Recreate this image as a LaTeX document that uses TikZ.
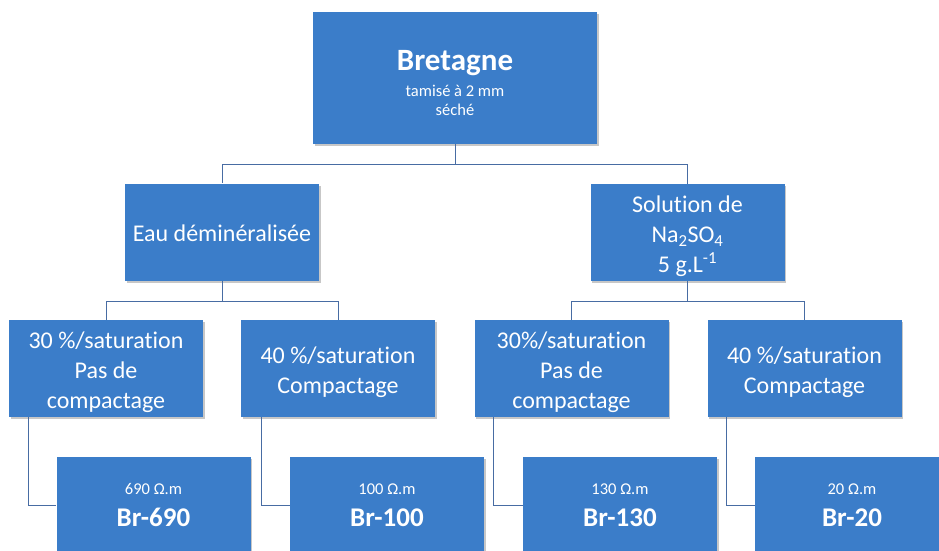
\documentclass[tikz,border=0pt]{standalone}
\usepackage{fontspec}
\setmainfont[Ligatures=NoCommon]{Carlito}
\usetikzlibrary{shadows}
\definecolor{boxblue}{RGB}{59,125,201}
\definecolor{linkblue}{RGB}{72,108,163}
\newcommand{\firstline}{\rule{0pt}{25pt}}
\tikzset{
  box/.style={rectangle, fill=boxblue, text=white, align=center, inner sep=0pt,
    minimum width=194pt, minimum height=97pt,
    drop shadow={shadow xshift=1.5pt, shadow yshift=-2pt, fill=black, opacity=0.22}},
  midtext/.style={font=\fontsize{24}{30}\selectfont},
  smalltext/.style={font=\fontsize{16.5}{19}\selectfont},
  link/.style={draw=linkblue, line width=0.9pt},
}
\begin{document}
\begin{tikzpicture}[x=1pt,y=-1pt]
\useasboundingbox (0,0) rectangle (939,550);
% top
\node[box, smalltext, minimum width=284pt, minimum height=132pt] (top) at (455,78)
  {\raisebox{0pt}[\dimexpr\height+10pt][\depth]{\fontsize{31}{34}\selectfont\bfseries Bretagne}\\[7pt]
   tamisé à 2 mm\\séché};
% level 2
\node[box, midtext] (eau) at (222,232) {\rule{0pt}{19pt}Eau déminéralisée};
\node[box, midtext] (sol) at (687.5,232.5) {\firstline Solution de\\Na\textsubscript{2}SO\textsubscript{4}\\5 g.L\textsuperscript{-1}};
% level 3
\node[box, midtext] (a) at (106,368.5) {\firstline 30 \%/saturation\\Pas de\\compactage};
\node[box, midtext] (b) at (338,368.5) {\firstline 40 \%/saturation\\Compactage};
\node[box, midtext] (c) at (571.5,368.5) {\firstline 30\%/saturation\\Pas de\\compactage};
\node[box, midtext] (d) at (804.5,368.5) {\firstline 40 \%/saturation\\Compactage};
% level 4
\newcommand{\resval}[2]{#1\\[13pt]{\fontsize{27}{30}\selectfont\bfseries #2}}
\node[box, smalltext] (e) at (153.5,505.5) {\resval{690 Ω.m}{Br-690}};
\node[box, smalltext] (f) at (387,505.5) {\resval{100 Ω.m}{Br-100}};
\node[box, smalltext] (g) at (620,505.5) {\resval{130 Ω.m}{Br-130}};
\node[box, smalltext] (h) at (852,505.5) {\resval{20 Ω.m}{Br-20}};
% junctions
\coordinate (j1) at (455,164);
\coordinate (j2) at (222,301);
\coordinate (j3) at (687.5,301);
% connectors
\draw[link] (top.south) -- (j1) -| (eau.north);
\draw[link] (j1) -| (sol.north);
\draw[link] (eau.south) -- (j2) -| (a.north);
\draw[link] (j2) -| (b.north);
\draw[link] (sol.south) -- (j3) -| (c.north);
\draw[link] (j3) -| (d.north);
\draw[link] ([xshift=20pt]a.south west) |- (e.west);
\draw[link] ([xshift=21pt]b.south west) |- (f.west);
\draw[link] ([xshift=19pt]c.south west) |- (g.west);
\draw[link] ([xshift=19pt]d.south west) |- (h.west);
\end{tikzpicture}
\end{document}
